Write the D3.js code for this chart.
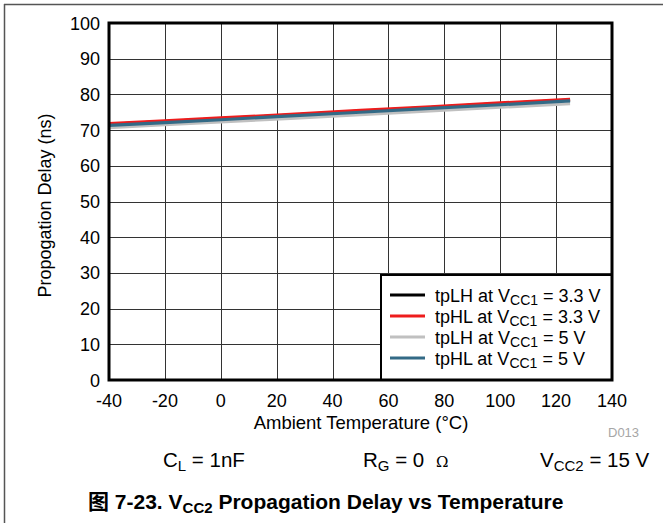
<!DOCTYPE html>
<html>
<head>
<meta charset="utf-8">
<script src="https://cdn.jsdelivr.net/npm/d3@7"></script>
<style>
  body { margin: 0; background: #fff; }
  svg { display: block; font-family: "Liberation Sans", Arial, "Noto Sans CJK SC", sans-serif; }
</style>
</head>
<body>
<svg id="chart" width="663" height="523"></svg>
<script>
// propagation delay vs ambient temperature, four curves

var temps = [-40, -20, 0, 25, 50, 75, 100, 125];
var tplh33 = [71.6, 72.4, 73.2, 74.2, 75.3, 76.3, 77.4, 78.4];
var tphl33 = [71.8, 72.6, 73.4, 74.4, 75.5, 76.5, 77.6, 78.6];
var tplh5 = [70.7, 71.5, 72.3, 73.3, 74.3, 75.4, 76.4, 77.4];
var tphl5 = [71.3, 72.1, 72.9, 74.0, 75.0, 76.1, 77.1, 78.2];

var xTicks = [-40, -20, 0, 20, 40, 60, 80, 100, 120, 140];
var yTicks = [0, 10, 20, 30, 40, 50, 60, 70, 80, 90, 100];

var seriesNames = ["tpLH", "tpHL", "tpLH", "tpHL"];
var seriesVolts = ["3.3 V", "3.3 V", "5 V", "5 V"];
var seriesColors = ["#000000", "#ee1c1c", "#c0c0c0", "#336a86"];
var seriesData = [tplh33, tphl33, tplh5, tphl5];
var drawOrder = [0, 2, 1, 3];

var svg = d3.select("#chart");

// outer frame lines
svg.append("line").attr("x1", 4).attr("y1", 4.5).attr("x2", 663).attr("y2", 4.5)
    .attr("stroke", "#555").attr("stroke-width", 1.5);
svg.append("line").attr("x1", 4.5).attr("y1", 4).attr("x2", 4.5).attr("y2", 523)
    .attr("stroke", "#555").attr("stroke-width", 1.5);

var margin = {left: 109, top: 23, right: 612, bottom: 380};

var x = d3.scaleLinear().domain([-40, 140]).range([margin.left, margin.right]);
var y = d3.scaleLinear().domain([0, 100]).range([margin.bottom, margin.top]);

var g = svg.append("g");

// grid
g.append("g").selectAll("line").data(xTicks).enter().append("line")
    .attr("x1", function(d) { return Math.round(x(d)) + 0.5 })
    .attr("x2", function(d) { return Math.round(x(d)) + 0.5 })
    .attr("y1", y(100)).attr("y2", y(0))
    .attr("stroke", "#333").attr("stroke-width", 1);
g.append("g").selectAll("line").data(yTicks).enter().append("line")
    .attr("y1", function(d) { return Math.round(y(d)) + 0.5 })
    .attr("y2", function(d) { return Math.round(y(d)) + 0.5 })
    .attr("x1", x(-40)).attr("x2", x(140))
    .attr("stroke", "#333").attr("stroke-width", 1);

// tick labels
g.append("g").selectAll("text").data(yTicks).enter().append("text")
    .attr("x", x(-40) - 9)
    .attr("y", function(d) { return y(d) + 6.5 })
    .attr("text-anchor", "end")
    .attr("font-size", 18)
    .text(function(d) { return d });
g.append("g").selectAll("text").data(xTicks).enter().append("text")
    .attr("x", function(d) { return x(d) })
    .attr("y", 407)
    .attr("text-anchor", "middle")
    .attr("font-size", 18)
    .text(function(d) { return d });

// curves
var line = d3.line()
    .x(function(d, i) { return x(temps[i]) })
    .y(function(d) { return y(d) });

drawOrder.forEach(function(k) {
    g.append("path")
        .attr("d", line(seriesData[k]))
        .attr("fill", "none")
        .attr("stroke", seriesColors[k])
        .attr("stroke-width", 3.2);
});

// legend
var lg = g.append("g");
lg.append("rect").attr("x", 381).attr("y", 275).attr("width", x(140) - 381).attr("height", y(0) - 275)
    .attr("fill", "#fff").attr("stroke", "#000").attr("stroke-width", 2);
seriesNames.forEach(function(name, i) {
    var ry = 295 + i * 21;
    lg.append("line").attr("x1", 390).attr("x2", 425).attr("y1", ry).attr("y2", ry)
        .attr("stroke", seriesColors[i]).attr("stroke-width", 3);
    var t = lg.append("text").attr("x", 435).attr("y", ry + 6.5).attr("font-size", 18);
    t.append("tspan").text(name + " at V");
    t.append("tspan").attr("font-size", 14).attr("dy", 3).text("CC1");
    t.append("tspan").attr("dy", -3).text(" = " + seriesVolts[i]);
});

// plot border
g.append("rect").attr("x", x(-40)).attr("y", y(100))
    .attr("width", x(140) - x(-40)).attr("height", y(0) - y(100))
    .attr("fill", "none").attr("stroke", "#000").attr("stroke-width", 3);

// axis titles
svg.append("text").attr("x", 361).attr("y", 429).attr("text-anchor", "middle")
    .attr("font-size", 18.5).text("Ambient Temperature (°C)");
svg.append("text").attr("transform", "translate(51," + ((y(0) + y(100)) / 2 + 4) + ") rotate(-90)")
    .attr("text-anchor", "middle").attr("font-size", 18).text("Propogation Delay (ns)");
svg.append("text").attr("x", 608).attr("y", 437).attr("font-size", 13)
    .attr("fill", "#a6a6a6").text("D013");

// conditions
var c1 = svg.append("text").attr("x", 163).attr("y", 467).attr("font-size", 20.5);
c1.append("tspan").text("C");
c1.append("tspan").attr("font-size", 15).attr("dy", 4).text("L");
c1.append("tspan").attr("dy", -4).text(" = 1nF");

var c2 = svg.append("text").attr("x", 363).attr("y", 467).attr("font-size", 20.5);
c2.append("tspan").text("R");
c2.append("tspan").attr("font-size", 15).attr("dy", 4).text("G");
c2.append("tspan").attr("dy", -4).text(" = 0");
svg.append("text").attr("x", 436).attr("y", 467).attr("font-size", 15)
    .attr("font-family", "DejaVu Serif, serif").text("Ω");

var c3 = svg.append("text").attr("x", 540).attr("y", 467).attr("font-size", 20.5);
c3.append("tspan").text("V");
c3.append("tspan").attr("font-size", 15).attr("dy", 4).text("CC2");
c3.append("tspan").attr("dy", -4).text(" = 15 V");

// caption
var cap = svg.append("text").attr("x", 88).attr("y", 509).attr("font-size", 21).attr("font-weight", "bold");
cap.append("tspan").text("图 7-23. V");
cap.append("tspan").attr("font-size", 15).attr("dy", 4).text("CC2");
cap.append("tspan").attr("dy", -4).text(" Propagation Delay vs Temperature");
</script>
</body>
</html>
